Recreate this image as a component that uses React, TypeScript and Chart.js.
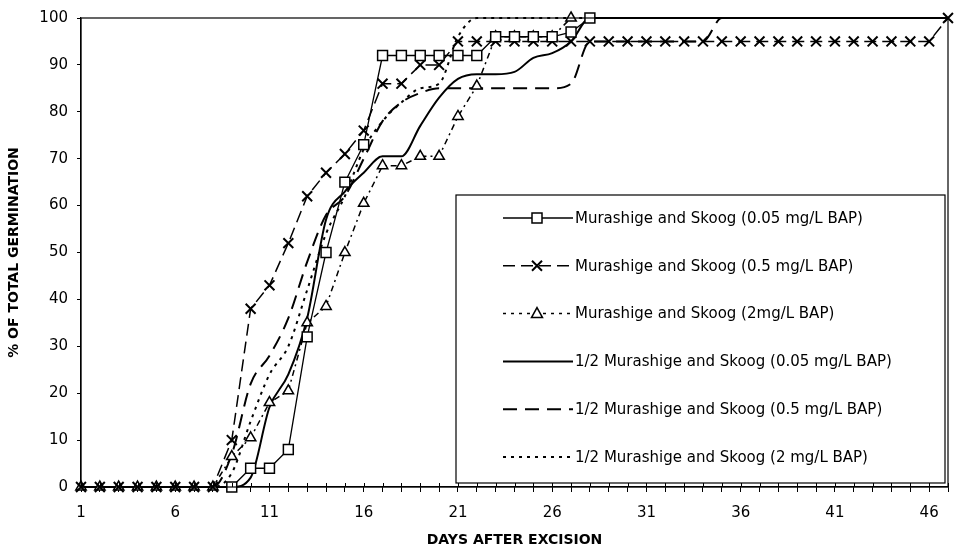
import React, { useEffect, useRef } from 'react';
import { Chart, registerables } from 'chart.js';

Chart.register(...registerables);

// ---- data ----
const days = [1, 2, 3, 4, 5, 6, 7, 8, 9, 10, 11, 12, 13, 14, 15, 16, 17, 18, 19, 20, 21, 22, 23, 24, 25, 26, 27, 28, 29, 30, 31, 32, 33, 34, 35, 36, 37, 38, 39, 40, 41, 42, 43, 44, 45, 46, 47];
const labelledDays = [1, 6, 11, 16, 21, 26, 31, 36, 41, 46];

const seriesNames = [
  'Murashige and Skoog (0.05 mg/L BAP)',
  'Murashige and Skoog (0.5 mg/L BAP)',
  'Murashige and Skoog (2mg/L BAP)',
  '1/2 Murashige and Skoog (0.05 mg/L BAP)',
  '1/2 Murashige and Skoog (0.5 mg/L BAP)',
  '1/2 Murashige and Skoog (2 mg/L BAP)',
];

const msLow = [null, null, null, null, null, null, null, null, 0, 4, 4, 8, 32, 50, 65, 73, 92, 92, 92, 92, 92, 92, 96, 96, 96, 96, 97, 100, null, null, null, null, null, null, null, null, null, null, null, null, null, null, null, null, null, null, null];
const msMid = [0, 0, 0, 0, 0, 0, 0, 0, 10, 38, 43, 52, 62, 67, 71, 76, 86, 86, 90, 90, 95, 95, 95, 95, 95, 95, 95, 95, 95, 95, 95, 95, 95, 95, 95, 95, 95, 95, 95, 95, 95, 95, 95, 95, 95, 95, 100];
const msHigh = [0, 0, 0, 0, 0, 0, 0, 0, 6.5, 10.5, 18, 20.5, 35, 38.5, 50, 60.5, 68.5, 68.5, 70.5, 70.5, 79, 85.5, 96, 96, 96, 96, 100, null, null, null, null, null, null, null, null, null, null, null, null, null, null, null, null, null, null, null, null];
const halfLow = [0, 0, 0, 0, 0, 0, 0, 0, 0, 2, 17, 24, 36, 57, 63, 67, 70.5, 70.5, 77, 83, 87, 88, 88, 88.5, 91.5, 92.5, 95, 100, 100, 100, 100, 100, 100, 100, 100, 100, 100, 100, 100, 100, 100, 100, 100, 100, 100, 100, 100];
const halfMid = [0, 0, 0, 0, 0, 0, 0, 0, 7, 22, 28, 36, 48, 58, 62, 70, 78, 82, 84, 85, 85, 85, 85, 85, 85, 85, 86, 95, 95, 95, 95, 95, 95, 95, 100, 100, 100, 100, 100, 100, 100, 100, 100, 100, 100, 100, 100];
const halfHigh = [0, 0, 0, 0, 0, 0, 0, 0, 3, 14, 24, 30, 42, 54, 62, 72, 78, 82, 85, 86, 96, 100, 100, 100, 100, 100, 100, 100, 100, 100, 100, 100, 100, 100, 100, 100, 100, 100, 100, 100, 100, 100, 100, 100, 100, 100, 100];

const toPoints = (vals: (number | null)[]) => days.map((d, i) => ({ x: d, y: vals[i] }));

const INK = '#000000';

type LegendStyle = { dash: number[]; marker: 'rect' | 'cross' | 'tri' | null; width: number };
const legendStyles: LegendStyle[] = [
  { dash: [], marker: 'rect', width: 1.3 },
  { dash: [12, 6], marker: 'cross', width: 1.5 },
  { dash: [3, 5], marker: 'tri', width: 1.5 },
  { dash: [], marker: null, width: 2 },
  { dash: [14, 8], marker: null, width: 2 },
  { dash: [3, 5], marker: null, width: 2 },
];

function drawMarker(ctx: CanvasRenderingContext2D, kind: string, x: number, y: number) {
  ctx.save();
  ctx.setLineDash([]);
  ctx.lineWidth = 1.5;
  ctx.strokeStyle = INK;
  ctx.fillStyle = '#fff';
  if (kind === 'rect') {
    ctx.beginPath();
    ctx.rect(x - 5, y - 5, 10, 10);
    ctx.fill();
    ctx.stroke();
  } else if (kind === 'cross') {
    ctx.beginPath();
    ctx.moveTo(x - 5, y - 5); ctx.lineTo(x + 5, y + 5);
    ctx.moveTo(x + 5, y - 5); ctx.lineTo(x - 5, y + 5);
    ctx.lineWidth = 2;
    ctx.stroke();
  } else if (kind === 'tri') {
    ctx.beginPath();
    ctx.moveTo(x, y - 6); ctx.lineTo(x + 5.5, y + 4); ctx.lineTo(x - 5.5, y + 4); ctx.closePath();
    ctx.fill();
    ctx.stroke();
  }
  ctx.restore();
}

const framePlugin = {
  id: 'frameAndLegend',
  afterDatasetsDraw(chart: any) {
    const { ctx, chartArea: a, scales } = chart;
    ctx.save();
    ctx.strokeStyle = INK;
    ctx.lineWidth = 1.2;
    ctx.setLineDash([]);
    ctx.strokeRect(a.left, a.top, a.right - a.left, a.bottom - a.top);
    // inner x tick marks
    const xs = scales.x;
    ctx.beginPath();
    for (const d of days) {
      const px = Math.round(xs.getPixelForValue(d)) + 0.5;
      ctx.moveTo(px, a.bottom);
      ctx.lineTo(px, a.bottom - 4);
    }
    ctx.lineWidth = 1;
    ctx.stroke();

    // legend box
    const L = 456, T = 195, R = 945, B = 483;
    ctx.fillStyle = '#fff';
    ctx.fillRect(L, T, R - L, B - T);
    ctx.lineWidth = 1.2;
    ctx.strokeRect(L, T, R - L, B - T);
    const rowTop = 218, rowStep = 47.8;
    ctx.font = '15px "DejaVu Sans"';
    ctx.textBaseline = 'middle';
    ctx.textAlign = 'left';
    seriesNames.forEach((name, i) => {
      const st = legendStyles[i];
      const y = rowTop + i * rowStep;
      ctx.save();
      ctx.strokeStyle = INK;
      ctx.lineWidth = st.width;
      ctx.setLineDash(st.dash);
      ctx.beginPath();
      ctx.moveTo(503, y);
      ctx.lineTo(573, y);
      ctx.stroke();
      ctx.restore();
      if (st.marker) drawMarker(ctx, st.marker, 537, y);
      ctx.fillStyle = INK;
      ctx.fillText(name, 575, y + 1);
    });
    ctx.restore();
  },
};

export default function App() {
  const ref = useRef<HTMLCanvasElement | null>(null);
  useEffect(() => {
    if (!ref.current) return;
    const common = { borderColor: INK, backgroundColor: INK, clip: false as any, spanGaps: false };
    const chart = new Chart(ref.current, {
      type: 'line',
      data: {
        datasets: [
          { ...common, label: seriesNames[0], data: toPoints(msLow), borderWidth: 1.3, tension: 0,
            pointStyle: 'rect', pointRadius: 7, pointBorderWidth: 1.5, pointBackgroundColor: '#fff', pointBorderColor: INK },
          { ...common, label: seriesNames[1], data: toPoints(msMid), borderWidth: 1.5, borderDash: [12, 6], tension: 0,
            pointStyle: 'crossRot', pointRadius: 7, pointBorderWidth: 2, pointBorderColor: INK },
          { ...common, label: seriesNames[2], data: toPoints(msHigh), borderWidth: 1.5, borderDash: [6, 4, 2, 4], tension: 0,
            pointStyle: 'triangle', pointRadius: 6, pointBorderWidth: 1.5, pointBackgroundColor: '#fff', pointBorderColor: INK },
          { ...common, label: seriesNames[3], data: toPoints(halfLow), borderWidth: 2, pointRadius: 0,
            tension: 0.4, cubicInterpolationMode: 'monotone' },
          { ...common, label: seriesNames[4], data: toPoints(halfMid), borderWidth: 2, borderDash: [14, 8], pointRadius: 0,
            tension: 0.4, cubicInterpolationMode: 'monotone' },
          { ...common, label: seriesNames[5], data: toPoints(halfHigh), borderWidth: 2, borderDash: [3, 5], pointRadius: 0,
            tension: 0.4, cubicInterpolationMode: 'monotone' },
        ],
      },
      options: {
        animation: false,
        responsive: true,
        maintainAspectRatio: false,
        layout: { padding: { top: 18, right: 7, left: 0, bottom: 0 } },
        plugins: { legend: { display: false }, tooltip: { enabled: false } },
        scales: {
          x: {
            type: 'linear',
            min: 1,
            max: 47,
            afterFit: (s: any) => { s.height = 67; },
            grid: { drawOnChartArea: false, tickLength: 5, color: INK },
            border: { color: INK, width: 1.2 },
            ticks: {
              stepSize: 1,
              autoSkip: false,
              maxRotation: 0,
              padding: 12,
              color: INK,
              font: { family: '"DejaVu Sans"', size: 15 },
              callback: (v: any) => (labelledDays.includes(Number(v)) ? String(v) : ''),
            },
            title: {
              display: true,
              text: 'DAYS AFTER EXCISION',
              color: INK,
              font: { family: '"DejaVu Sans"', size: 14, weight: 'bold' },
              padding: { top: 0, bottom: 5 },
            },
          },
          y: {
            min: 0,
            max: 100,
            afterFit: (s: any) => { s.width = 81; },
            grid: { drawOnChartArea: false, tickLength: 4, color: INK },
            border: { color: INK, width: 1.2 },
            ticks: {
              stepSize: 10,
              padding: 9,
              color: INK,
              font: { family: '"DejaVu Sans"', size: 15 },
            },
            title: {
              display: true,
              text: '% OF TOTAL GERMINATION',
              color: INK,
              font: { family: '"DejaVu Sans"', size: 14, weight: 'bold' },
              padding: { top: 6, bottom: 0 },
            },
          },
        },
      },
      plugins: [framePlugin],
    });
    return () => chart.destroy();
  }, []);

  return (
    <div style={{ position: 'absolute', left: 0, top: 0, width: 960, height: 554, background: '#fff' }}>
      <canvas ref={ref} />
    </div>
  );
}
